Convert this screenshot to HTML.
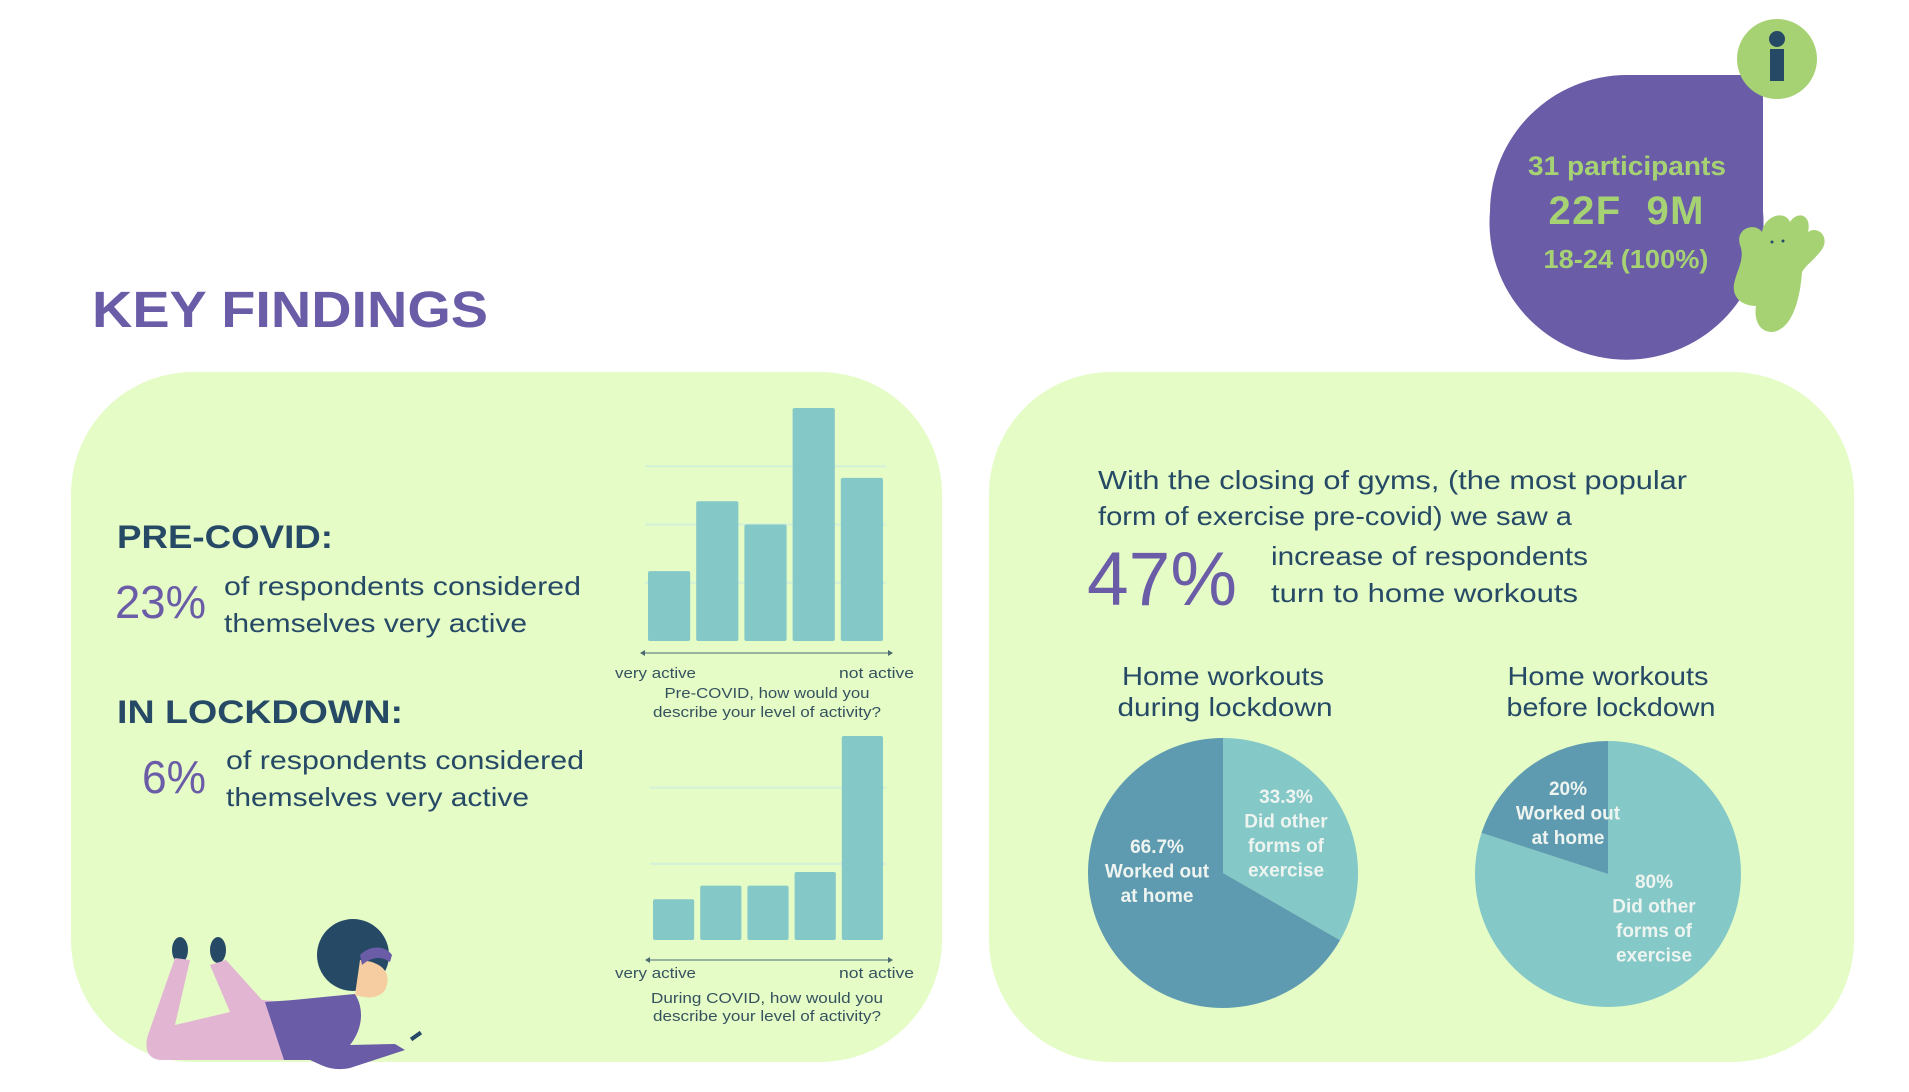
<!DOCTYPE html>
<html><head><meta charset="utf-8"><style>
html,body{margin:0;padding:0;background:#fff;}
svg{display:block;font-family:"Liberation Sans",sans-serif;}
</style></head><body>
<svg id="root" width="1909" height="1092" viewBox="0 0 1909 1092">
  <rect width="1909" height="1092" fill="#ffffff"/>
  <text x="92" y="327" font-size="51" font-weight="bold" fill="#6a5ca6" textLength="396" lengthAdjust="spacingAndGlyphs">KEY FINDINGS</text>

  <g>
    <path d="M1490,211 A137,137 0 0 1 1627,75 L1763,75 L1763,211 A137,137 0 1 1 1490,211 Z" fill="#6a5ca6"/>
    <text x="1627" y="175" text-anchor="middle" font-size="27" font-weight="bold" fill="#a6d274" textLength="198" lengthAdjust="spacingAndGlyphs">31 participants</text>
    <text x="1626" y="224" text-anchor="middle" font-size="40" font-weight="bold" fill="#a6d274" textLength="155" lengthAdjust="spacing" xml:space="preserve">22F  9M</text>
    <text x="1626" y="268" text-anchor="middle" font-size="26" font-weight="bold" fill="#a6d274" textLength="165" lengthAdjust="spacingAndGlyphs">18-24 (100%)</text>
  </g>
  <g>
    <circle cx="1777" cy="59" r="40" fill="#a6d274"/>
    <circle cx="1777" cy="39" r="8" fill="#264a66"/>
    <rect x="1770" y="49" width="14" height="32" fill="#264a66"/>
  </g>
  <g>
    <path d="M1740,245 C1735,228 1755,222 1762,232 C1765,215 1785,210 1790,222 C1798,210 1812,215 1808,232 C1818,225 1832,238 1820,252 C1812,262 1806,265 1802,272 C1800,300 1792,330 1772,332 C1758,332 1754,318 1756,306 C1740,306 1730,295 1735,280 C1738,268 1745,258 1740,245 Z" fill="#a6d274"/>
    <circle cx="1772" cy="242" r="1.5" fill="#264a66"/><circle cx="1783" cy="241" r="1.5" fill="#264a66"/>
  </g>

  <path d="M193,372 L820,372 A122,122 0 0 1 942,494 L942,940 A122,122 0 0 1 820,1062 L193,1062 A122,122 0 0 1 71,940 L71,494 A122,122 0 0 1 193,372 Z" fill="#e5fcc7"/>
  <text x="117" y="548" font-size="32" font-weight="bold" fill="#264a66" textLength="216" lengthAdjust="spacingAndGlyphs">PRE-COVID:</text>
  <text x="115" y="618" font-size="46" fill="#6a5ca6" textLength="91" lengthAdjust="spacingAndGlyphs">23%</text>
  <text x="224" y="595" font-size="26" fill="#264a66" textLength="357" lengthAdjust="spacingAndGlyphs">of respondents considered</text>
  <text x="224" y="632" font-size="26" fill="#264a66" textLength="303" lengthAdjust="spacingAndGlyphs">themselves very active</text>
  <text x="117" y="723" font-size="32" font-weight="bold" fill="#264a66" textLength="286" lengthAdjust="spacingAndGlyphs">IN LOCKDOWN:</text>
  <text x="142" y="793" font-size="46" fill="#6a5ca6" textLength="64" lengthAdjust="spacingAndGlyphs">6%</text>
  <text x="226" y="769" font-size="26" fill="#264a66" textLength="358" lengthAdjust="spacingAndGlyphs">of respondents considered</text>
  <text x="226" y="806" font-size="26" fill="#264a66" textLength="303" lengthAdjust="spacingAndGlyphs">themselves very active</text>

  <g id="bars1"></g>
  <g id="bars2"></g>

  <g>
    <ellipse cx="180" cy="950" rx="8" ry="13" fill="#264a66"/>
    <ellipse cx="218" cy="950" rx="8" ry="13" fill="#264a66"/>
    <path d="M175,958 L190,960 L175,1025 L230,1012 L210,965 L226,960 L262,1000 L285,1002 L285,1060 L160,1060 C145,1058 145,1045 148,1035 Z" fill="#e2b5d3"/>
    <path d="M265,1002 C300,1000 330,996 355,994 C365,1010 362,1030 350,1045 L395,1044 L405,1050 L350,1068 C330,1072 320,1064 310,1060 L284,1060 Z" fill="#6a5ca6"/>
    <circle cx="353" cy="955" r="36" fill="#264a66"/>
    <path d="M360,960 C385,962 392,975 385,990 C378,1000 365,998 355,995 Z" fill="#f6cda0"/>
    <path d="M360,955 C370,945 385,945 392,955 L390,962 C380,955 370,958 362,965 Z" fill="#6a5ca6"/>
    <rect x="410" y="1034" width="12" height="4" fill="#264a66" transform="rotate(-35 416 1036)"/>
  </g>

  <path d="M1111,372 L1732,372 A122,122 0 0 1 1854,494 L1854,940 A122,122 0 0 1 1732,1062 L1111,1062 A122,122 0 0 1 989,940 L989,494 A122,122 0 0 1 1111,372 Z" fill="#e5fcc7"/>
  <text x="1098" y="489" font-size="26" fill="#264a66" textLength="589" lengthAdjust="spacingAndGlyphs">With the closing of gyms, (the most popular</text>
  <text x="1098" y="525" font-size="26" fill="#264a66" textLength="474" lengthAdjust="spacingAndGlyphs">form of exercise pre-covid) we saw a</text>
  <text x="1087" y="605" font-size="76" fill="#6a5ca6" textLength="150" lengthAdjust="spacingAndGlyphs">47%</text>
  <text x="1271" y="565" font-size="26" fill="#264a66" textLength="317" lengthAdjust="spacingAndGlyphs">increase of respondents</text>
  <text x="1271" y="602" font-size="26" fill="#264a66" textLength="307" lengthAdjust="spacingAndGlyphs">turn to home workouts</text>
  <text x="1223" y="685" text-anchor="middle" font-size="26" fill="#264a66" textLength="202" lengthAdjust="spacingAndGlyphs">Home workouts</text>
  <text x="1225" y="716" text-anchor="middle" font-size="26" fill="#264a66" textLength="215" lengthAdjust="spacingAndGlyphs">during lockdown</text>
  <text x="1608" y="685" text-anchor="middle" font-size="26" fill="#264a66" textLength="201" lengthAdjust="spacingAndGlyphs">Home workouts</text>
  <text x="1611" y="716" text-anchor="middle" font-size="26" fill="#264a66" textLength="209" lengthAdjust="spacingAndGlyphs">before lockdown</text>
  <g id="pie1"></g>
  <g id="pie2"></g>
</svg>
<script>
const barCategories = ["very active","active","moderate","low","not active"];
const preCovidCounts = [3, 6, 5, 10, 7];
const duringCovidCounts = [3, 4, 4, 5, 15];
const preCovidGrid = [2.5, 5, 7.5];
const duringCovidGrid = [5.6, 11.2];
const pie1Values = [33.3, 66.7];
const pie1Labels = [["33.3%","Did other","forms of","exercise"],["66.7%","Worked out","at home"]];
const pie2Values = [80, 20];
const pie2Labels = [["80%","Did other","forms of","exercise"],["20%","Worked out","at home"]];

const NS = "http://www.w3.org/2000/svg";
function mk(tag, attrs, parent){ const e=document.createElementNS(NS,tag); for(const k in attrs) e.setAttribute(k,attrs[k]); parent.appendChild(e); return e; }

function barChart(g, counts, grid, cfg){
  const y = v => cfg.base - v*cfg.pxPer;
  const bw = (cfg.x1-cfg.x0)/counts.length;
  grid.forEach(v=>{
    const l = mk('line',{x1:cfg.x0,x2:cfg.x1,y1:y(v),y2:y(v),stroke:'#d3f0d8','stroke-width':2},g);
    
    
  });
  counts.forEach((c,i)=>{
    const r = mk('rect',{x:cfg.x0+i*bw+3,y:y(c),width:bw-6,height:c*cfg.pxPer,fill:'#84c8c7',rx:2},g);
    
    
  });
  const a = mk('line',{x1:cfg.x0-3,x2:cfg.x1+5,y1:cfg.arrowY,y2:cfg.arrowY,stroke:'#4a6a70','stroke-width':1},g);
  
  
  mk('path',{d:`M${cfg.x0-5},${cfg.arrowY} l5,-3 v6 z M${cfg.x1+7},${cfg.arrowY} l-5,-3 v6 z`,fill:'#4a6a70'},g);
  const t1 = mk('text',{x:615,y:cfg.labelY,'font-size':15,fill:'#35525e',textLength:81,lengthAdjust:'spacingAndGlyphs'},g);
  t1.textContent='very active';
  
  
  const t2 = mk('text',{x:839,y:cfg.labelY,'font-size':15,fill:'#35525e',textLength:75,lengthAdjust:'spacingAndGlyphs'},g);
  t2.textContent='not active';
  
  
  cfg.caption.forEach((s,i)=>{
    const t = mk('text',{x:767,y:cfg.capY[i],'text-anchor':'middle','font-size':15,fill:'#35525e',textLength:cfg.capW[i],lengthAdjust:'spacingAndGlyphs'},g);
    t.textContent=s;
    
    
  });
}
barChart(document.getElementById('bars1'), preCovidCounts, preCovidGrid,
  {x0:645,x1:886,base:641,pxPer:23.3,arrowY:653,labelY:678,capY:[698,717],capW:[205,228],
   caption:["Pre-COVID, how would you","describe your level of activity?"]});
barChart(document.getElementById('bars2'), duringCovidCounts, duringCovidGrid,
  {x0:650,x1:886,base:940,pxPer:13.6,arrowY:960,labelY:978,capY:[1003,1021],capW:[232,228],
   caption:["During COVID, how would you","describe your level of activity?"]});

function pie(g, vals, labels, cx, cy, r, colors, labelPos){
  const tot = vals.reduce((a,b)=>a+b,0);
  let a0 = -Math.PI/2;
  vals.forEach((v,i)=>{
    const a1 = a0 + v/tot*2*Math.PI;
    const large = (a1-a0)>Math.PI?1:0;
    const p = mk('path',{d:`M${cx},${cy} L${cx+r*Math.cos(a0)},${cy+r*Math.sin(a0)} A${r},${r} 0 ${large} 1 ${cx+r*Math.cos(a1)},${cy+r*Math.sin(a1)} Z`,fill:colors[i]},g);
    
    
    a0 = a1;
  });
  labels.forEach((lines,i)=>{
    const pos = labelPos[i];
    lines.forEach((s,j)=>{
      const t = mk('text',{x:pos[0],y:pos[1]+j*24.5,'text-anchor':'middle','font-size':19,'font-weight':'bold',fill:'#eef4f0'},g);
      t.textContent=s;
      
      
    });
  });
}
pie(document.getElementById('pie1'), pie1Values, pie1Labels, 1223, 873, 135, ['#84c8c7','#5f9bb0'], [[1286,803],[1157,853]]);
pie(document.getElementById('pie2'), pie2Values, pie2Labels, 1608, 874, 133, ['#84c8c7','#5f9bb0'], [[1654,888],[1568,795]]);
</script>
</body></html>
